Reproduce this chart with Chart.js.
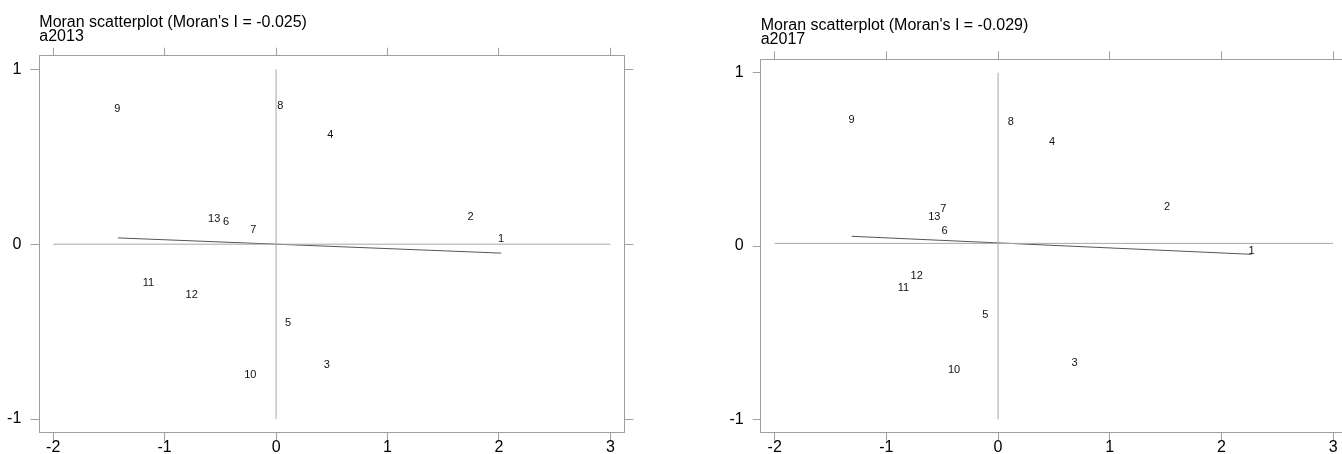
<!DOCTYPE html>
<html lang="en">
<head>
  <meta charset="UTF-8" />
  <title>Moran scatterplots</title>
  <script src="https://cdn.jsdelivr.net/npm/chart.js"></script>
  <style>
    html, body { margin: 0; padding: 0; background: #fff; overflow: hidden; }
    body { width: 1342px; height: 454px; position: relative; }
    canvas { position: absolute; top: 0; }
    #leftChart { left: 0; }
    #rightChart { left: 671px; }
  </style>
</head>
<body>
  <canvas id="leftChart" width="671" height="454"></canvas>
  <canvas id="rightChart" width="730" height="454"></canvas>

  <script>
    // region ids, same order for both years
    const ids = ["1", "2", "3", "4", "5", "6", "7", "8", "9", "10", "11", "12", "13"];

    // a2013: standardized value vs spatial lag
    const x2013 = [2.02, 1.745, 0.456, 0.487, 0.108, -0.448, -0.205, 0.039, -1.425, -0.231, -1.146, -0.757, -0.556];
    const y2013 = [0.030, 0.154, -0.690, 0.625, -0.451, 0.127, 0.082, 0.792, 0.775, -0.745, -0.223, -0.291, 0.146];

    // a2017
    const x2017 = [2.27, 1.512, 0.684, 0.484, -0.113, -0.479, -0.49, 0.115, -1.311, -0.394, -0.848, -0.729, -0.571];
    const y2017 = [-0.031, 0.227, -0.673, 0.600, -0.398, 0.087, 0.212, 0.714, 0.727, -0.716, -0.24, -0.173, 0.169];

    // fitted line end points
    const fit2013X = [-1.42, 2.02];
    const fit2013Y = [0.036, -0.051];
    const fit2017X = [-1.31, 2.27];
    const fit2017Y = [0.056, -0.048];

    // reference lines (horizontal at mean lag, vertical at 0)
    const hLine2013 = 0;
    const hLine2017 = 0.015;

    const xTicks = [-2, -1, 0, 1, 2, 3];
    const yTicks = [-1, 0, 1];

    const titles2013 = ["Moran scatterplot (Moran's I = -0.025)", "a2013"];
    const titles2017 = ["Moran scatterplot (Moran's I = -0.029)", "a2017"];

    const FONT = "'Liberation Sans', Arial, Helvetica, sans-serif";
    const BOX = "#a0a0a0";

    // draws the id text at each point position
    const pointLabels = {
      id: "pointLabels",
      afterDatasetsDraw(chart) {
        const ctx = chart.ctx;
        chart.data.datasets.forEach((ds, i) => {
          if (!ds.ids) return;
          const meta = chart.getDatasetMeta(i);
          ctx.save();
          ctx.font = "11px " + FONT;
          ctx.fillStyle = "#111";
          ctx.textAlign = "center";
          ctx.textBaseline = "middle";
          meta.data.forEach((pt, j) => ctx.fillText(ds.ids[j], pt.x, pt.y));
          ctx.restore();
        });
      }
    };

    // two-line heading sitting just above the plot box
    const heading = {
      id: "heading",
      afterDraw(chart, args, opts) {
        const ctx = chart.ctx;
        const a = chart.chartArea;
        ctx.save();
        ctx.font = "16px " + FONT;
        ctx.fillStyle = "#000";
        ctx.textAlign = "left";
        ctx.textBaseline = "alphabetic";
        ctx.fillText(opts.lines[0], a.left, a.top - 29);
        ctx.fillText(opts.lines[1], a.left, a.top - 15);
        ctx.restore();
      }
    };

    function lineSet(xs, ys, color) {
      return {
        data: xs.map((x, i) => ({ x: x, y: ys[i] })),
        showLine: true,
        borderColor: color,
        borderWidth: 1,
        pointRadius: 0,
        pointHoverRadius: 0
      };
    }

    function axis(pos, m) {
      const horiz = pos === "top" || pos === "bottom";
      const labels = pos === "bottom" || pos === "left";
      return {
        type: "linear",
        position: pos,
        min: horiz ? -2.125 : -1.078,
        max: horiz ? 3.125 : 1.078,
        afterBuildTicks: s => { s.ticks = (horiz ? xTicks : yTicks).map(v => ({ value: v })); },
        afterFit: s => { if (horiz) s.height = m[pos]; else s.width = m[pos]; },
        ticks: {
          display: labels,
          font: { family: FONT, size: 16 },
          color: "#000",
          padding: horiz ? -3 : 9,
          callback: v => String(v)
        },
        grid: { drawOnChartArea: false, drawTicks: true, tickLength: horiz ? 8 : m.tick, color: BOX },
        border: { display: true, color: BOX, width: 1 }
      };
    }

    function makeChart(el, xs, ys, fitX, fitY, hLine, lines, m) {
      return new Chart(document.getElementById(el), {
        type: "scatter",
        data: {
          datasets: [
            lineSet([-2, 3], [hLine, hLine], "#a8a8a8"),
            lineSet([0, 0], [-1, 1], "#a8a8a8"),
            lineSet(fitX, fitY, "#555"),
            {
              data: xs.map((x, i) => ({ x: x, y: ys[i] })),
              ids: ids,
              pointRadius: 0,
              pointHoverRadius: 0
            }
          ]
        },
        options: {
          responsive: false,
          animation: false,
          devicePixelRatio: 1,
          layout: { padding: 0 },
          plugins: {
            legend: { display: false },
            tooltip: { enabled: false },
            heading: { lines: lines }
          },
          scales: {
            x: axis("bottom", m),
            x2: axis("top", m),
            y: axis("left", m),
            y2: axis("right", m)
          }
        },
        plugins: [pointLabels, heading]
      });
    }

    makeChart("leftChart", x2013, y2013, fit2013X, fit2013Y, hLine2013, titles2013,
      { top: 55.7, bottom: 21.3, left: 39.3, right: 46.7, tick: 9 });
    makeChart("rightChart", x2017, y2017, fit2017X, fit2017Y, hLine2017, titles2017,
      { top: 59.3, bottom: 21.3, left: 89.7, right: 53.9, tick: 8 });
  </script>
</body>
</html>
